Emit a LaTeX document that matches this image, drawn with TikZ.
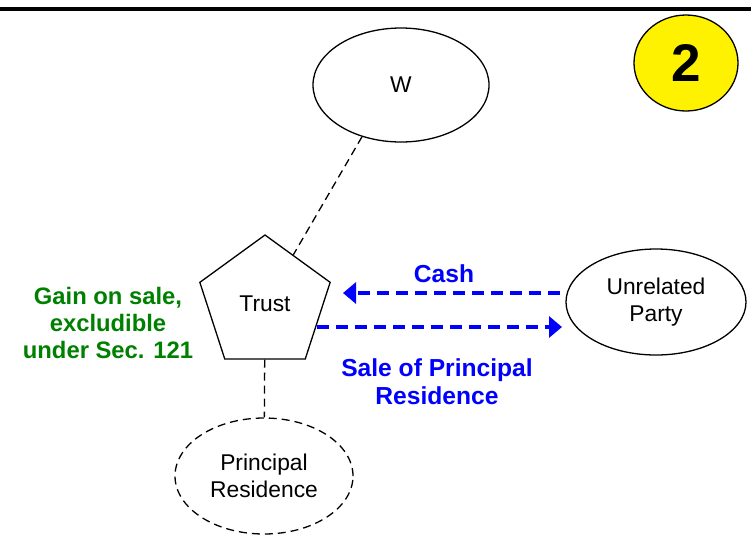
\documentclass[tikz,border=0pt]{standalone}
\usepackage{fontspec}
\setmainfont{Liberation Sans}
\usepackage{xcolor}
\usetikzlibrary{shapes.geometric,arrows.meta}
\definecolor{gaingreen}{RGB}{0,128,0}
\tikzset{
    party-ellipse/.style = {draw=black, ellipse, line width=1.3pt, inner sep=0pt, align=center, font=\fontsize{22.8}{27}\selectfont},
    trust-box/.style = {draw=black, regular polygon, regular polygon sides=5, minimum size=137pt, line width=1.3pt, inner sep=0pt, font=\fontsize{22.8}{27}\selectfont},
    link-line/.style = {draw=black, line width=1.3pt, dash pattern=on 8pt off 5pt},
    flow-arrow/.style = {draw=blue, line width=3.5pt, dash pattern=on 12pt off 7pt, -{Triangle[length=13pt,width=21pt]}},
    flow-label/.style = {text=blue, font=\fontsize{24.6}{28}\selectfont\bfseries, align=center},
}

\begin{document}
\begin{tikzpicture}[x=1pt, y=-1pt]
\useasboundingbox (0,0) rectangle (751,542);
\draw[line width=3.5pt] (0,9) -- (751,9);

\node [party-ellipse, fill=yellow, minimum width=104pt, minimum height=96pt, font=\fontsize{53}{60}\selectfont\bfseries] (step-num) at (686,63) {2};

\node [party-ellipse, minimum width=176pt, minimum height=114pt] (wife) at (401,85) {W};
\node [trust-box] (trust) at (265,303.5) {Trust};
\node [party-ellipse, minimum width=180pt, minimum height=106pt] (buyer) at (656,302) {Unrelated\\Party};
\node [party-ellipse, link-line, minimum width=178pt, minimum height=116pt] (residence) at (264,476) {Principal\\Residence};

\draw[link-line] (wife.233) -- (trust);
\draw[link-line] (trust) -- (residence);

\draw[flow-arrow] ([xshift=-96pt,yshift=9pt]buyer.center) -- ([xshift=78pt,yshift=10.5pt]trust.center);
\draw[flow-arrow] ([xshift=52pt,yshift=-23.5pt]trust.center) -- ([xshift=-94pt,yshift=-25pt]buyer.center);

\node [flow-label] (cash-label) at (444,274) {Cash};
\node [flow-label] (sale-label) at (437,382) {Sale of Principal\\Residence};
\node [flow-label, text=gaingreen, font=\fontsize{23.8}{27}\selectfont\bfseries] (gain-label) at (108,323) {Gain on sale,\\excludible\\under Sec. 121};
\end{tikzpicture}
\end{document}
